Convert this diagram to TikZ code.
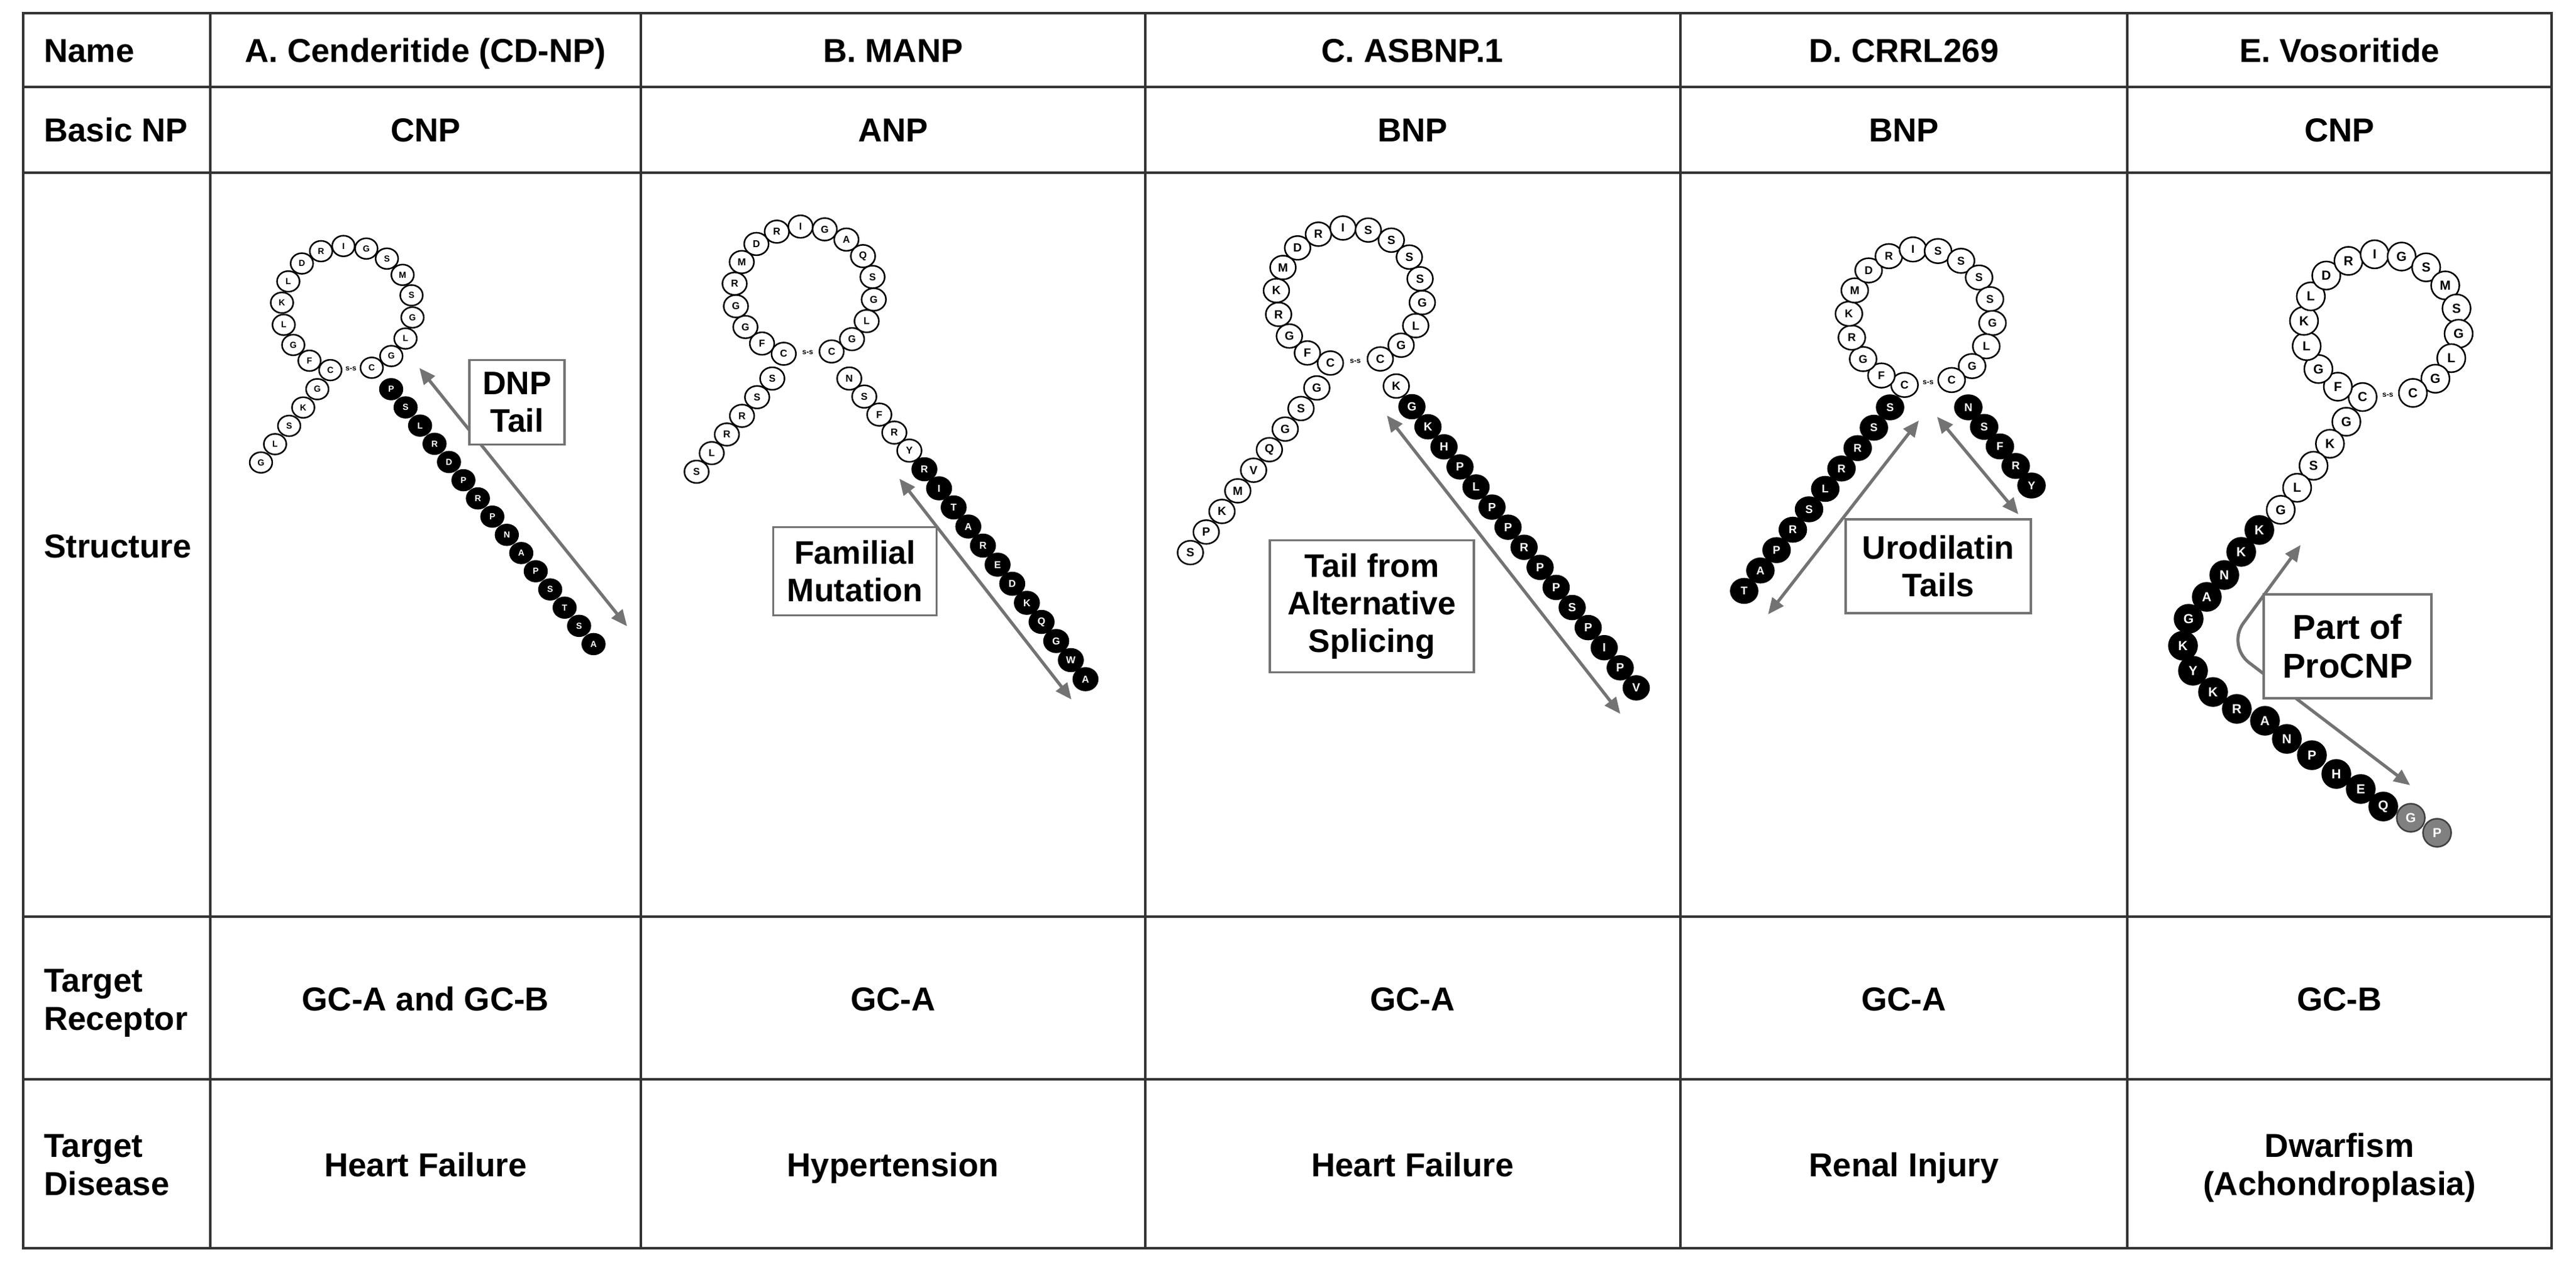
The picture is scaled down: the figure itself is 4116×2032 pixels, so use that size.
\documentclass[tikz,border=0pt]{standalone}
\usepackage{fontspec}
\setmainfont{Liberation Sans}
\usetikzlibrary{shapes.geometric,arrows.meta,calc}
\newcommand{\ringbeads}[8]{%
  \foreach \l [count=\i from 0] in {#8} {
    \node[wbead] (#1r\i) at ({#2+#4*cos(#6+\i*(#7))}, {#3-#5*sin(#6+\i*(#7))}) {\l};
  }}
\newcommand{\chainbeads}[7]{%
  \foreach \l [count=\i from 0] in {#7} {
    \node[#1] (#2\i) at ({#3+\i*(#5)}, {#4+\i*(#6)}) {\l};
  }}
\begin{document}
\begin{tikzpicture}[x=1pt,y=-1pt,
  gridline/.style={line width=4.5pt, draw=black!80},
  bsz/.style={minimum width=36pt,minimum height=33pt,font=\bfseries\fontsize{14}{14}\selectfont},
  bead/.style={ellipse,inner sep=0pt,line width=2.5pt,bsz},
  wbead/.style={bead,draw=black,fill=white,text=black},
  bbead/.style={bead,draw=black,fill=black,text=white},
  gbead/.style={bead,draw=black!75,fill=black!50,text=white},
  ssl/.style={inner sep=0pt,font=\bfseries\fontsize{12}{12}\selectfont},
  garrow/.style={draw=black!55,line width=5pt,{Triangle[length=26pt,width=22pt]}-{Triangle[length=26pt,width=22pt]}},
  lbox/.style={draw=black!55,line width=3.5pt,fill=white,align=center,inner sep=0pt,font=\bfseries\fontsize{52}{60}\selectfont},
  cell/.style={inner sep=0pt,text height=38pt,text depth=0pt,font=\bfseries\fontsize{53}{61}\selectfont},
  rowlab/.style={cell,anchor=west}
]
\fill[white] (0,0) rectangle (4116,2032);
\useasboundingbox (0,0) rectangle (4116,2032);

% ---------- grid ----------
\draw[gridline] (37,21) rectangle (4077,1995);
\foreach \gx in {336,1024,1830,2685,3399} \draw[gridline] (\gx,21) -- (\gx,1995);
\foreach \gy in {139,276,1465,1725} \draw[gridline] (37,\gy) -- (4077,\gy);

% ---------- row labels ----------
\node[rowlab] (lname) at (70,80) {Name};
\node[rowlab] (lbasic) at (70,207) {Basic NP};
\node[rowlab] (lstruct) at (70,872) {Structure};
\node[rowlab] (lrec1) at (70,1566) {Target};
\node[rowlab] (lrec2) at (70,1627) {Receptor};
\node[rowlab] (ldis1) at (70,1830) {Target};
\node[rowlab] (ldis2) at (70,1891) {Disease};

% ---------- header ----------
\node[cell] (hA) at (680,80) {A. Cenderitide (CD-NP)};
\node[cell] (hB) at (1427,80) {B. MANP};
\node[cell] (hC) at (2257,80) {C. ASBNP.1};
\node[cell] (hD) at (3042,80) {D. CRRL269};
\node[cell] (hE) at (3738,80) {E. Vosoritide};

\node[cell] (bA) at (680,207) {CNP};
\node[cell] (bB) at (1427,207) {ANP};
\node[cell] (bC) at (2257,207) {BNP};
\node[cell] (bD) at (3042,207) {BNP};
\node[cell] (bE) at (3738,207) {CNP};

\node[cell] (rA) at (680,1596) {GC-A and GC-B};
\node[cell] (rB) at (1427,1596) {GC-A};
\node[cell] (rC) at (2257,1596) {GC-A};
\node[cell] (rD) at (3042,1596) {GC-A};
\node[cell] (rE) at (3738,1596) {GC-B};

\node[cell] (dA) at (680,1861) {Heart Failure};
\node[cell] (dB) at (1427,1861) {Hypertension};
\node[cell] (dC) at (2257,1861) {Heart Failure};
\node[cell] (dD) at (3042,1861) {Renal Injury};
\node[cell] (dE1) at (3738,1830) {Dwarfism};
\node[cell] (dE2) at (3738,1891) {(Achondroplasia)};

% ---------- Panel A ----------
\begin{scope}[bsz/.style={minimum width=36pt,minimum height=33pt,font=\bfseries\fontsize{14}{14}\selectfont}]
\ringbeads{A}{555}{494}{105}{101}{255}{-20.2}{C,F,G,L,K,L,D,R,I,G,S,M,S,G,L,G,C}
\chainbeads{wbead}{Al}{507}{622}{-22.5}{29.3}{G,K,S,L,G}
\chainbeads{bbead}{At}{625}{622}{23.1}{29.1}{P,S,L,R,D,P,R,P,N,A,P,S,T,S,A}
\node[ssl] (Ass) at ($(Ar0)!0.5!(Ar16)$) {s-s};
\coordinate (Aa1) at (670,588);
\coordinate (Aa2) at (1002,1001);
\draw[garrow] (Aa1) -- (Aa2);
\node[lbox,minimum width=152pt,minimum height=135pt] (Abox) at (826,643) {DNP\\Tail};
\end{scope}

% ---------- Panel B ----------
\begin{scope}[bsz/.style={minimum width=39pt,minimum height=36pt,font=\bfseries\fontsize{16}{16}\selectfont}]
\ringbeads{B}{1285}{466}{112}{104}{253}{-20}{C,F,G,G,R,M,D,R,I,G,A,Q,S,G,L,G,C}
\chainbeads{wbead}{Bl}{1234}{605}{-24.2}{29.8}{S,S,R,R,L,S}
\chainbeads{wbead}{Bw}{1357}{605}{24}{28.8}{N,S,F,R,Y}
\chainbeads{bbead}{Bt}{1477}{750}{23.4}{30.5}{R,I,T,A,R,E,D,K,Q,G,W,A}
\node[ssl] (Bss) at ($(Br0)!0.5!(Br16)$) {s-s};
\coordinate (Ba1) at (1437,765);
\coordinate (Ba2) at (1712,1118);
\draw[garrow] (Ba1) -- (Ba2);
\node[lbox,minimum width=261pt,minimum height=141pt] (Bbox) at (1366,913) {Familial\\Mutation};
\end{scope}

% ---------- Panel C ----------
\begin{scope}[bsz/.style={minimum width=41pt,minimum height=38pt,font=\bfseries\fontsize{19}{19}\selectfont}]
\ringbeads{C}{2156}{474}{117}{110}{255}{-20}{C,F,G,R,K,M,D,R,I,S,S,S,S,G,L,G,C}
\chainbeads{wbead}{Cl}{2104}{620}{-25.25}{32.9}{G,S,G,Q,V,M,K,P,S}
\node[wbead] (Cw0) at (2231,617) {K};
\chainbeads{bbead}{Ct}{2256}{650}{25.6}{32.1}{G,K,H,P,L,P,P,R,P,P,S,P,I,P,V}
\node[ssl] (Css) at ($(Cr0)!0.5!(Cr16)$) {s-s};
\coordinate (Ca1) at (2216,664);
\coordinate (Ca2) at (2589,1141);
\draw[garrow] (Ca1) -- (Ca2);
\node[lbox,minimum width=326pt,minimum height=211pt] (Cbox) at (2192,969) {Tail from\\Alternative\\Splicing};
\end{scope}

% ---------- Panel D ----------
\begin{scope}[bsz/.style={minimum width=43pt,minimum height=39pt,font=\bfseries\fontsize{18}{18}\selectfont}]
\ringbeads{D}{3069}{508}{115}{110}{257}{-20.1}{C,F,G,R,K,M,D,R,I,S,S,S,S,G,L,G,C}
\chainbeads{bbead}{Dl}{3020}{651}{-25.9}{32.6}{S,S,R,R,L,S,R,P,A,T}
\chainbeads{bbead}{Dt}{3145}{651}{25.25}{31.25}{N,S,F,R,Y}
\node[ssl] (Dss) at ($(Dr0)!0.5!(Dr16)$) {s-s};
\coordinate (Da0) at (3066,672);
\coordinate (Da1) at (2825,982);
\coordinate (Da2) at (3095,666);
\coordinate (Da3) at (3225,822);
\draw[garrow] (Da0) -- (Da1);
\draw[garrow] (Da2) -- (Da3);
\node[lbox,minimum width=296pt,minimum height=150pt] (Dbox) at (3097,905) {Urodilatin\\Tails};
\end{scope}

% ---------- Panel E ----------
\begin{scope}[bsz/.style={minimum width=45pt,minimum height=45pt,font=\bfseries\fontsize{21}{21}\selectfont}]
\ringbeads{E}{3805}{522}{124}{116}{256}{-20.125}{C,F,G,L,K,L,D,R,I,G,S,M,S,G,L,G,C}
\chainbeads{wbead}{El}{3749}{674}{-26.2}{35.2}{G,K,S,L,G}
\foreach \l/\px/\py [count=\i from 0] in {K/3610/847,K/3581/882,N/3554/919,A/3526/954,G/3497/989,K/3488/1032,Y/3504/1072,K/3536/1106,R/3574/1133,A/3619/1152,N/3654/1181,P/3694/1207,H/3733/1237,E/3772/1261,Q/3808/1289}
  \node[bbead] (Eb\i) at (\px,\py) {\l};
\node[gbead] (Eg0) at (3852,1307) {G};
\node[gbead] (Eg1) at (3894,1331) {P};
\node[ssl] (Ess) at ($(Er0)!0.5!(Er16)$) {s-s};
\coordinate (Ea1) at (3676,871);
\coordinate (Eab) at (3558,1032);
\coordinate (Ea2) at (3851,1255);
\draw[garrow,rounded corners=45pt] (Ea1) -- (Eab) -- (Ea2);
\node[lbox,minimum width=268pt,minimum height=166pt,font=\bfseries\fontsize{55}{62}\selectfont] (Ebox) at (3751,1033) {Part of\\ProCNP};
\end{scope}
\end{tikzpicture}
\end{document}
